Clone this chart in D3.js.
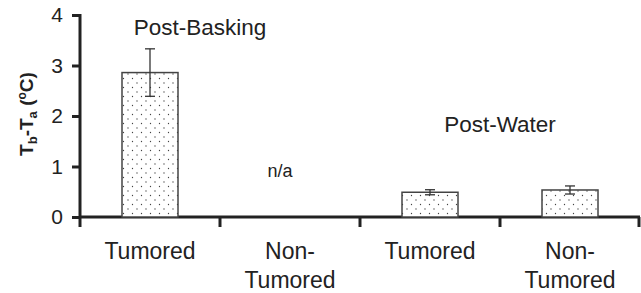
<!DOCTYPE html>
<html>
<head>
<meta charset="utf-8">
<script src="https://cdn.jsdelivr.net/npm/d3@7"></script>
<style>
  body { margin: 0; background: #fff; }
  text { font-family: "Liberation Sans", Arial, sans-serif; fill: #222; }
</style>
</head>
<body>
<div id="container"></div>
<script>
const width = 641;
const height = 293;

//------------------DATA------------------//
const categories = ["Tumored", "Non-Tumored", "Tumored", "Non-Tumored"];
const catLines = [["Tumored"], ["Non-", "Tumored"], ["Tumored"], ["Non-", "Tumored"]];
const means = [2.86, null, 0.49, 0.535];
const errors = [0.47, null, 0.05, 0.08];
const yTicks = [0, 1, 2, 3, 4];

//------------------SVG------------------//
const svg = d3.select("#container").append("svg")
  .attr("width", width)
  .attr("height", height);

// dotted fill
const pat = svg.append("defs").append("pattern")
  .attr("id", "dots")
  .attr("patternUnits", "userSpaceOnUse")
  .attr("width", 9).attr("height", 9);
pat.append("rect").attr("width", 9).attr("height", 9).attr("fill", "#fff");
pat.append("circle").attr("cx", 2).attr("cy", 2).attr("r", 0.65).attr("fill", "#444");
pat.append("circle").attr("cx", 6.5).attr("cy", 6.5).attr("r", 0.65).attr("fill", "#444");

//------------------SCALES------------------//
const idx = d3.range(categories.length);
const x = d3.scaleBand().domain(idx).range([80, 640]).paddingInner(0.6).paddingOuter(0.3);
const y = d3.scaleLinear().domain([0, 4]).range([217, 15]);
const step = x.step();

//------------------AXES------------------//
const yaxis = d3.axisLeft(y).tickValues(yTicks).tickFormat(d3.format("d"))
  .tickSize(8).tickSizeOuter(0).tickPadding(9);
const gy = svg.append("g").attr("transform", "translate(80,0)").call(yaxis);
gy.select(".domain").remove();
gy.selectAll(".tick line").attr("stroke", "#222").attr("stroke-width", 3);
gy.selectAll(".tick text").style("font-size", "21px").attr("fill", "#222")
  .attr("font-family", "Liberation Sans, Arial, sans-serif");

// axis lines
svg.append("line")
  .attr("x1", 80).attr("x2", 80).attr("y1", y(4) - 1).attr("y2", y(0) + 10)
  .attr("stroke", "#222").attr("stroke-width", 3);
svg.append("line")
  .attr("x1", 80).attr("x2", 640).attr("y1", y(0)).attr("y2", y(0))
  .attr("stroke", "#222").attr("stroke-width", 3);

// x ticks at band boundaries
const bounds = idx.map(i => x(i) - x.paddingInner() * step / 2);
bounds.push(x(idx.length - 1) + x.bandwidth() + x.paddingInner() * step / 2);
svg.selectAll("xticks")
  .data(bounds.slice(1))
  .enter()
  .append("line")
  .attr("x1", d => Math.min(d, 639)).attr("x2", d => Math.min(d, 639))
  .attr("y1", y(0)).attr("y2", y(0) + 10)
  .attr("stroke", "#222").attr("stroke-width", 3);

// category labels
const xl = svg.selectAll("xlabels")
  .data(idx)
  .enter()
  .append("text")
  .attr("text-anchor", "middle")
  .style("font-size", "23px")
  .attr("transform", d => "translate(" + (x(d) + x.bandwidth() / 2) + "," + (y(0) + 42) + ")");
xl.selectAll("tspan")
  .data(d => catLines[d])
  .enter()
  .append("tspan")
  .attr("x", 0)
  .attr("dy", (d, i) => i === 0 ? 0 : 29)
  .text(d => d);

// y title
const yt = svg.append("text")
  .attr("transform", "translate(33," + ((y(4) + y(0)) / 2 - 2) + ") rotate(-90)")
  .attr("text-anchor", "middle")
  .style("font-size", "19px")
  .style("font-weight", "bold");
yt.append("tspan").text("T");
yt.append("tspan").text("b").attr("dy", 4).style("font-size", "13px");
yt.append("tspan").text("-T").attr("dy", -4);
yt.append("tspan").text("a").attr("dy", 4).style("font-size", "13px");
yt.append("tspan").text(" (").attr("dy", -4);
yt.append("tspan").text("o").attr("dy", -7).style("font-size", "12px");
yt.append("tspan").text("C)").attr("dy", 7);

//------------------BARS------------------//
const bars = idx.filter(i => means[i] !== null);
svg.selectAll("bars")
  .data(bars)
  .enter()
  .append("rect")
  .attr("x", d => x(d))
  .attr("width", x.bandwidth())
  .attr("y", d => y(means[d]))
  .attr("height", d => y(0) - y(means[d]))
  .attr("fill", "url(#dots)")
  .attr("stroke", "#444")
  .attr("stroke-width", 1.5);

// error bars
const eb = svg.selectAll("errs")
  .data(bars)
  .enter()
  .append("g")
  .attr("stroke", "#333")
  .attr("stroke-width", 1.3);
eb.append("line")
  .attr("x1", d => x(d) + x.bandwidth() / 2).attr("x2", d => x(d) + x.bandwidth() / 2)
  .attr("y1", d => y(means[d] + errors[d])).attr("y2", d => y(means[d] - errors[d]));
eb.append("line")
  .attr("x1", d => x(d) + x.bandwidth() / 2 - 5).attr("x2", d => x(d) + x.bandwidth() / 2 + 5)
  .attr("y1", d => y(means[d] + errors[d])).attr("y2", d => y(means[d] + errors[d]));
eb.append("line")
  .attr("x1", d => x(d) + x.bandwidth() / 2 - 5).attr("x2", d => x(d) + x.bandwidth() / 2 + 5)
  .attr("y1", d => y(means[d] - errors[d])).attr("y2", d => y(means[d] - errors[d]));

//------------------ANNOTATIONS------------------//
svg.append("text")
  .attr("x", x(0) + x.bandwidth() / 2 + 50)
  .attr("y", y(3.6))
  .attr("text-anchor", "middle")
  .style("font-size", "22.5px")
  .text("Post-Basking");

svg.append("text")
  .attr("x", x(1) + x.bandwidth() / 2 - 10)
  .attr("y", y(0.79))
  .attr("text-anchor", "middle")
  .style("font-size", "18px")
  .text("n/a");

svg.append("text")
  .attr("x", x(2) + x.bandwidth() / 2 + 70)
  .attr("y", y(1.68))
  .attr("text-anchor", "middle")
  .style("font-size", "22.5px")
  .text("Post-Water");
</script>
</body>
</html>
